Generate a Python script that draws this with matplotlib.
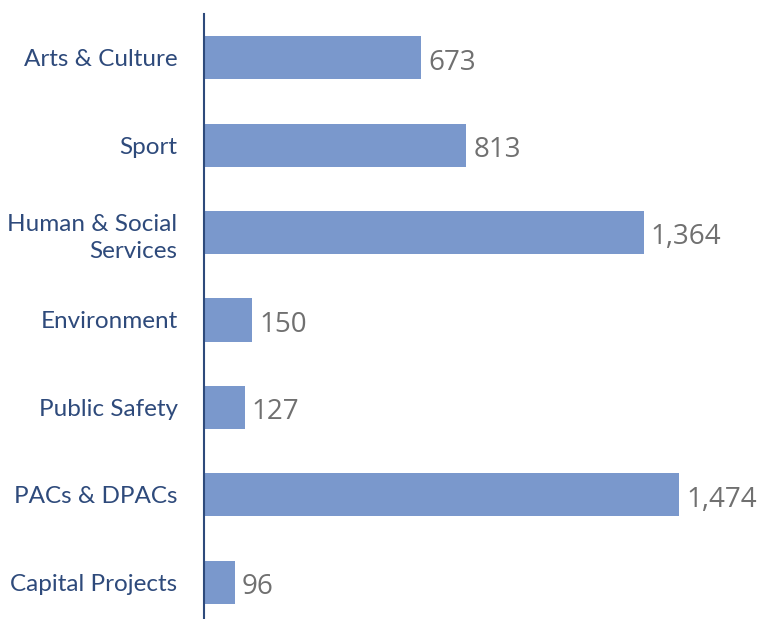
import matplotlib.pyplot as plt

categories = ['Arts & Culture', 'Sport', 'Human & Social\nServices', 'Environment',
              'Public Safety', 'PACs & DPACs', 'Capital Projects']
values = [673, 813, 1364, 150, 127, 1474, 96]
value_labels = ['673', '813', '1,364', '150', '127', '1,474', '96']

bar_color = '#7a98cc'
navy = '#2e4a7b'
grey = '#707070'

fig = plt.figure(figsize=(7.62, 6.19), dpi=100)
ax = fig.add_axes([204 / 762, 0, 558 / 762, 1 - 14 / 619])

pos = list(range(len(categories)))
ax.barh(pos, values, height=0.495, color=bar_color)

# value labels sit a touch below the bar centre, as in the original
for p, v, lab in zip(pos, values, value_labels):
    ax.annotate(lab, (v, p), xytext=(5, -3.5), textcoords='offset points',
                ha='left', va='center', fontsize=20, color=grey,
                family='Open Sans')

ax.set_yticks(pos)
ax.set_yticklabels(categories, fontsize=17.5, color=navy, family='Lato',
                   linespacing=1.4)
ax.tick_params(axis='y', length=0, pad=19)
ax.set_xticks([])
ax.set_xlim(0, 1730)
ax.set_ylim(6.42, -0.5)

for s in ['top', 'right', 'bottom']:
    ax.spines[s].set_visible(False)
ax.spines['left'].set_color(navy)
ax.spines['left'].set_linewidth(1.5)

plt.savefig('out.png', dpi=100)
